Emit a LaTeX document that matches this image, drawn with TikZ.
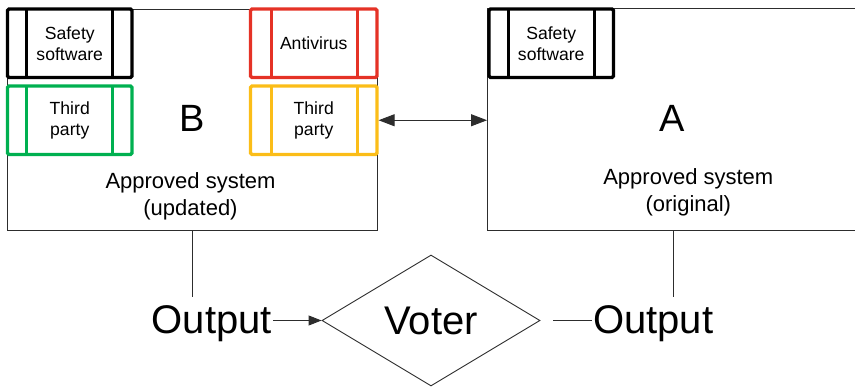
\documentclass[tikz,border=0pt]{standalone}
\usepackage{fontspec}
\setmainfont{Liberation Sans}
\usetikzlibrary{shapes.geometric,arrows.meta}
\definecolor{compgreen}{RGB}{0,176,80}
\definecolor{compred}{RGB}{229,50,38}
\definecolor{compyellow}{RGB}{251,189,24}
\definecolor{linegray}{RGB}{45,45,45}

\begin{document}
\begin{tikzpicture}[x=1pt,y=-1pt,
  sysbox/.style={line width=0.9pt, minimum height=221pt, inner sep=0pt},
  compbox/.style={draw=#1, line width=3.3pt, rounded corners=1.5pt,
    minimum width=124.5pt, minimum height=68.5pt, inner sep=0pt, outer sep=0pt,
    align=center, font=\fontsize{17.6}{21}\selectfont},
  bar/.style={line width=3.3pt, draw=#1},
  bigletter/.style={anchor=base, inner sep=0pt, font=\fontsize{38}{44}\selectfont},
  systitle/.style={align=center, inner sep=0pt, font=\fontsize{22}{27}\selectfont},
  outlabel/.style={anchor=base, inner sep=1.5pt, font=\fontsize{40}{48}\selectfont},
  votershape/.style={diamond, draw=linegray, line width=0.9pt, minimum width=218pt,
    minimum height=131pt, inner sep=0pt, font=\fontsize{40}{48}\selectfont},
  conn/.style={draw=linegray, line width=0.9pt},
  tip/.style={-{Triangle[length=13pt,width=10pt]}},
  twotip/.style={{Triangle[length=16pt,width=12pt]}-{Triangle[length=16pt,width=12pt]}}
]
\useasboundingbox (0,0) rectangle (855,387);

% system B (updated) and system A (original)
\node[sysbox, draw=linegray, minimum width=369.5pt] (boxB) at (192.25,119.5) {};
\node[sysbox, minimum width=368pt] (boxA) at (671.5,119.5) {};
\draw[conn] (boxA.north east) -- (boxA.north west) -- (boxA.south west) -- (boxA.south east);

% components inside system B
\node[compbox=black] (safeB) at (69.75,43.25) {Safety\\software};
\node[compbox=compgreen] (thirdB) at (69.75,120.25) {Third\\party};
\node[compbox=compred, minimum width=126.5pt] (antiB) at (313.75,43.25) {Antivirus};
\node[compbox=compyellow, minimum width=126.5pt] (thirdB2) at (313.75,120.25) {Third\\party};
% component inside system A
\node[compbox=black] (safeA) at (551.25,43.25) {Safety\\software};

% side bars of the component boxes
\foreach \n/\c/\l/\r in {safeB/black/19.2/19.3, thirdB/compgreen/19.2/19.3,
    antiB/compred/21.2/19.7, thirdB2/compyellow/20.7/19.5, safeA/black/19.8/19} {
  \draw[bar=\c] ([xshift=\l pt]\n.north west) -- ([xshift=\l pt]\n.south west);
  \draw[bar=\c] ([xshift=-\r pt]\n.north east) -- ([xshift=-\r pt]\n.south east);
}

% system letters and titles
\node[bigletter] (letB) at (192,131.5) {B};
\node[bigletter] (letA) at (672.5,131.5) {A};
\node[systitle] (titleB) at (190.5,196) {Approved system\\(updated)};
\node[systitle] (titleA) at (688.3,192) {Approved system\\(original)};

% link between the two systems
\draw[conn, twotip, shorten <=1.6pt] (thirdB2.east) -- (boxA.west |- thirdB2.east);

% outputs and voter
\node[outlabel] (outB) at (211.7,333.3) {Output};
\node[outlabel] (outA) at (653.3,333.3) {Output};
\node[votershape] (voter) at (431,320.5) {Voter};

\coordinate (tapB) at (192,296.7);
\coordinate (tapA) at (673.3,296.7);
\draw[conn] (boxB.south) -- (boxB.south |- tapB);
\draw[conn] (tapA |- boxA.south) -- (tapA);

\draw[conn, tip] (outB.east |- voter.west) -- (voter.west);
\draw[conn, shorten <=13pt] (voter.east) -- (outA.west |- voter.east);
\end{tikzpicture}
\end{document}
